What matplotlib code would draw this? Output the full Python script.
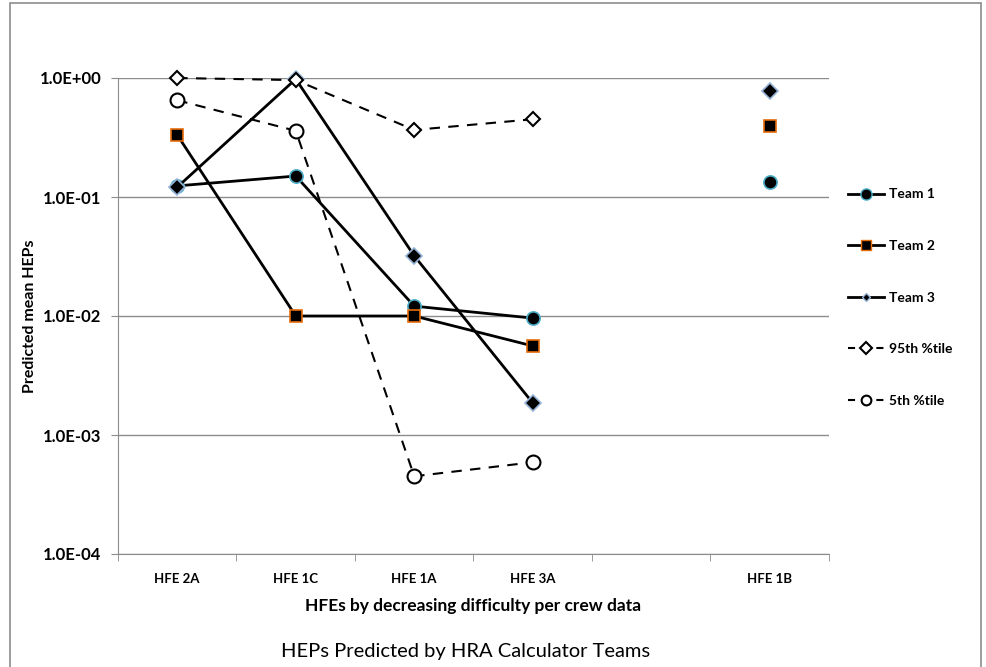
import numpy as np
import matplotlib.pyplot as plt
from matplotlib.lines import Line2D
from matplotlib.patches import Rectangle

plt.rcParams['font.family'] = ['Lato', 'DejaVu Sans']

categories = ['HFE 2A', 'HFE 1C', 'HFE 1A', 'HFE 3A', '', 'HFE 1B']
nan = np.nan

team1 = [0.124, 0.150, 0.0121, 0.0096, nan, 0.134]
team2 = [0.332, 0.010, 0.010, 0.0056, nan, 0.395]
team3 = [0.121, 0.98, 0.032, 0.00186, nan, 0.78]
p95 = [1.0, 0.96, 0.366, 0.45, nan, nan]
p5 = [0.65, 0.36, 0.00045, 0.00059, nan, nan]

x = np.arange(len(categories))

fig = plt.figure(figsize=(9.87, 6.67), dpi=100)
ax = fig.add_axes([118 / 987, 1 - 554 / 667, (829 - 118) / 987, (554 - 78) / 667])

# outer chart border
fig.patches.append(Rectangle((10 / 987, -0.01), (981 - 10) / 987, 1 - 3 / 667 + 0.01,
                             transform=fig.transFigure, fill=False,
                             edgecolor='#8c8c8c', linewidth=1.2))

ax.set_yscale('log')
ax.set_ylim(1e-4, 1)
ax.set_xlim(-0.5, len(categories) - 0.5)

ax.plot(x, team1, '-', color='black', lw=2, marker='o', ms=9.5,
        mfc='black', mec='#4bacc6', mew=1.2, clip_on=False, zorder=4)
ax.plot(x, team2, '-', color='black', lw=2, marker='s', ms=9,
        mfc='black', mec='#e46c0a', mew=1.2, clip_on=False, zorder=4)
ax.plot(x, team3, '-', color='black', lw=2, marker='D', ms=8,
        mfc='black', mec='#95b3d7', mew=1.2, clip_on=False, zorder=4)
ax.plot(x, p95, '--', color='black', lw=1.5, dashes=(5, 4), marker='D', ms=7.5,
        mfc='white', mec='black', mew=1.5, clip_on=False, zorder=5)
ax.plot(x, p5, '--', color='black', lw=1.5, dashes=(5, 4), marker='o', ms=10,
        mfc='white', mec='black', mew=1.5, clip_on=False, zorder=5)

ax.set_yticks([1e-4, 1e-3, 1e-2, 1e-1, 1])
ax.set_yticklabels(['1.0E-04', '1.0E-03', '1.0E-02', '1.0E-01', '1.0E+00'],
                   fontsize=12, fontweight='bold')
ax.yaxis.set_minor_locator(plt.NullLocator())
ax.grid(axis='y', color='#8c8c8c', lw=1)
ax.set_axisbelow(True)

ax.set_xticks(x)
ax.set_xticklabels(categories, fontsize=9.5, fontweight='bold')
ax.set_xticks(np.arange(len(categories) + 1) - 0.5, minor=True)
ax.tick_params(axis='x', which='major', length=0, pad=14)
ax.tick_params(axis='x', which='minor', length=5, color='#8c8c8c', direction='out')
ax.tick_params(axis='y', length=5, color='#8c8c8c', direction='out', pad=7)

for side in ['top', 'right']:
    ax.spines[side].set_visible(False)
for side in ['left', 'bottom']:
    ax.spines[side].set_color('#8c8c8c')

ax.set_xlabel('HFEs by decreasing difficulty per crew data', fontsize=12.5,
              fontweight='bold', labelpad=9)
ax.set_ylabel('Predicted mean HEPs', fontsize=11.5, fontweight='bold')
ax.yaxis.set_label_coords(-0.114, 0.5)
fig.text(466 / 987, 1 - 651 / 667, 'HEPs Predicted by HRA Calculator Teams',
         ha='center', va='center', fontsize=14.5)

handles = [
    Line2D([], [], color='black', lw=2, marker='o', ms=8, mfc='black', mec='#4bacc6'),
    Line2D([], [], color='black', lw=2, marker='s', ms=7, mfc='black', mec='#e46c0a'),
    Line2D([], [], color='black', lw=2, marker='D', ms=4, mfc='black', mec='#95b3d7'),
    Line2D([], [], color='black', lw=1.5, ls='--', dashes=(3.4, 3.4), marker='D', ms=6,
           mfc='white', mec='black', mew=1.5),
    Line2D([], [], color='black', lw=1.5, ls='--', dashes=(3.4, 3.4), marker='o', ms=7,
           mfc='white', mec='black', mew=1.5),
]
labels = ['Team 1', 'Team 2', 'Team 3', '95th %tile', '5th %tile']
leg = fig.legend(handles, labels, loc='upper left', bbox_to_anchor=(836 / 987, 1 - 176 / 667),
                 frameon=False, labelspacing=2.85, handlelength=2.55, handletextpad=0.4,
                 prop={'size': 10, 'weight': 'bold'})

fig.savefig('out.png', dpi=100)
